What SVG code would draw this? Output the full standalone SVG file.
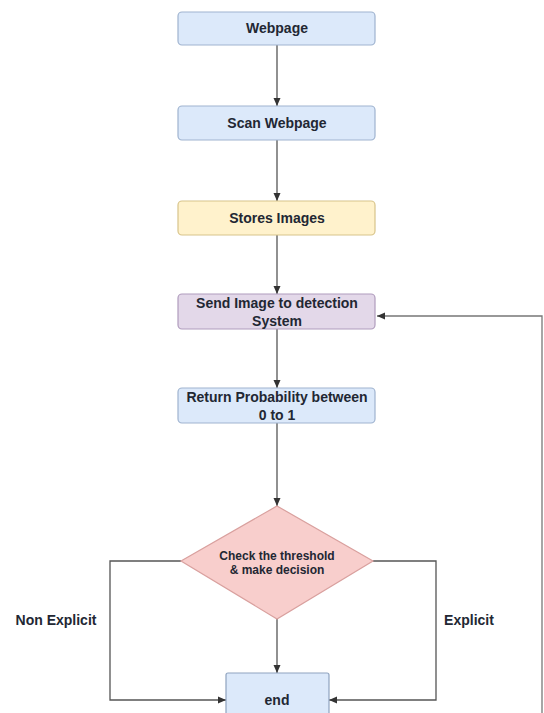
<svg xmlns="http://www.w3.org/2000/svg" width="544" height="713" viewBox="0 0 544 713">
<style>
.t{font-family:"Liberation Sans",Arial,sans-serif;font-weight:bold;font-size:14px;fill:#222733;text-anchor:middle}
.s{font-size:12px}
.blue{fill:#dce9fa;stroke:#9fb3cf;stroke-width:1.2}
.yel{fill:#fff2cc;stroke:#d8c48a;stroke-width:1.2}
.pur{fill:#e3d8e9;stroke:#b09cbd;stroke-width:1.2}
.red{fill:#f8cecc;stroke:#d9a09e;stroke-width:1.2}
.c{fill:none;stroke:#555;stroke-width:1.3}
</style>
<defs>
<marker id="a" markerUnits="userSpaceOnUse" markerWidth="8" markerHeight="8" refX="8" refY="4" orient="auto">
<path d="M0,0.5 L8,4 L0,7.5 z" fill="#333"/>
</marker>
</defs>
<rect width="544" height="713" fill="#fff"/>
<g id="connectors">
<line class="c" x1="277" y1="45" x2="277" y2="106" marker-end="url(#a)"/>
<line class="c" x1="277" y1="140" x2="277" y2="201" marker-end="url(#a)"/>
<line class="c" x1="277" y1="235" x2="277" y2="294" marker-end="url(#a)"/>
<line class="c" x1="277" y1="329" x2="277" y2="388" marker-end="url(#a)"/>
<line class="c" x1="277" y1="423" x2="277" y2="506" marker-end="url(#a)"/>
<line class="c" x1="277" y1="619" x2="277" y2="673" marker-end="url(#a)"/>
<polyline class="c" points="181,561 110,561 110,700 226,700" marker-end="url(#a)"/>
<polyline class="c" points="373,561 436,561 436,700 329,700" marker-end="url(#a)"/>
<polyline class="c" points="542,713 542,316 377,316" marker-end="url(#a)" style="stroke:#777"/>
</g>
<g id="webpage"><rect class="blue" x="178" y="12" width="197" height="33" rx="4"/><text class="t" x="277" y="33">Webpage</text></g>
<g id="scan"><rect class="blue" x="178" y="106" width="197" height="34" rx="4"/><text class="t" x="277" y="128">Scan Webpage</text></g>
<g id="stores"><rect class="yel" x="178" y="201" width="197" height="34" rx="4"/><text class="t" x="277" y="223">Stores Images</text></g>
<g id="send"><rect class="pur" x="178" y="294" width="197" height="35" rx="4"/><text class="t" x="277" y="308">Send Image to detection</text><text class="t" x="277" y="326">System</text></g>
<g id="return"><rect class="blue" x="178" y="388" width="197" height="35" rx="4"/><text class="t" x="277" y="402">Return Probability between</text><text class="t" x="277" y="420">0 to 1</text></g>
<g id="check"><polygon class="red" points="277,506 373,561 277,619 181,561"/><text class="t s" x="277" y="560">Check the threshold</text><text class="t s" x="277" y="574">&amp; make decision</text></g>
<g id="end"><rect class="blue" x="226" y="673" width="103" height="60" rx="2" style="stroke:#8fa3bf"/><text class="t" x="277" y="705">end</text></g>
<g id="labels"><text class="t" x="56" y="625">Non Explicit</text><text class="t" x="469" y="625">Explicit</text></g>
</svg>
